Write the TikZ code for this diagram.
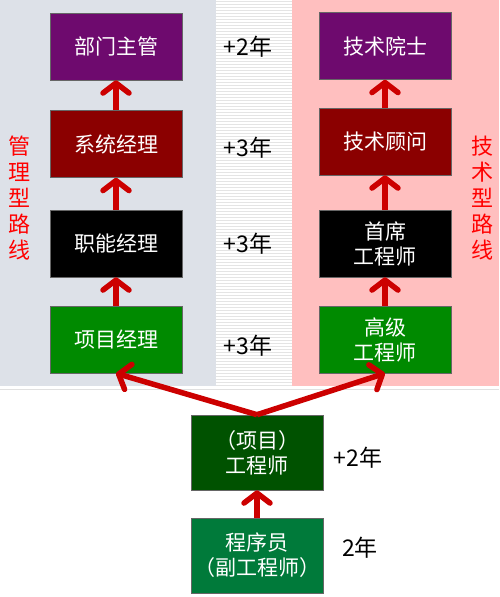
\documentclass[tikz,border=0pt]{standalone}
\usepackage{fontspec}
\setmainfont{Noto Sans CJK SC}
\usetikzlibrary{arrows.meta}
\definecolor{panelgray}{HTML}{DDE1E8}
\definecolor{panelpink}{HTML}{FFBFBF}
\definecolor{cpurple}{HTML}{6E0A6E}
\definecolor{cdarkred}{HTML}{8B0000}
\definecolor{cgreen}{HTML}{008A00}
\definecolor{cdkgreen}{HTML}{005200}
\definecolor{cmidgreen}{HTML}{007A3A}
\definecolor{arrowred}{HTML}{CC0000}
\definecolor{stripe}{HTML}{E4E4E4}
\tikzset{
  stepbox/.style={draw=black!60, line width=0.6pt, minimum width=132pt, minimum height=67pt,
    text=white, font=\fontsize{21}{25}\selectfont, align=center, inner sep=2pt},
  uparrow/.style={draw=arrowred, line width=5.5pt, -{Straight Barb[length=10pt,width=26pt,round]}},
  yearlabel/.style={font=\fontsize{23}{26}\selectfont, text=black},
  sidelabel/.style={font=\fontsize{22}{26}\selectfont, text=red, align=center}
}
\begin{document}
\begin{tikzpicture}[x=1pt,y=-1pt]
\useasboundingbox (0,0) rectangle (499,597);
\fill[white] (0,0) rectangle (499,597);
% panels
\fill[panelgray] (0,0) rectangle (216,386);
\fill[panelpink] (292,0) rectangle (499,386);
\foreach \yy in {1,4,...,385} {\draw[stripe, line width=1pt] (216,\yy) -- (292,\yy);}
\draw[black!12, line width=1pt] (0,389) -- (499,389);
% left column
\node[stepbox, fill=cpurple] (bmzg) at (116,46.5) {部门主管};
\node[stepbox, fill=cdarkred] (xtjl) at (116,144) {系统经理};
\node[stepbox, fill=black] (znjl) at (116,243.5) {职能经理};
\node[stepbox, fill=cgreen] (xmjl) at (116,339.5) {项目经理};
% right column
\node[stepbox, fill=cpurple] (jsys) at (385,46) {技术院士};
\node[stepbox, fill=cdarkred] (jsgw) at (385,141.5) {技术顾问};
\node[stepbox, fill=black] (sxgc) at (385,243.5) {首席\\工程师};
\node[stepbox, fill=cgreen] (gjgc) at (385,339.5) {高级\\工程师};
% bottom
\node[stepbox, fill=cdkgreen, minimum height=75pt] (gcs) at (257,452.5) {（项目）\\工程师};
\node[stepbox, fill=cmidgreen, minimum height=75pt] (cxy) at (257,555.5) {程序员\\（副工程师）};
% arrows
\draw[uparrow] (xtjl.north) -- (bmzg.south);
\draw[uparrow] (znjl.north) -- (xtjl.south);
\draw[uparrow] (xmjl.north) -- (znjl.south);
\draw[uparrow] (jsgw.north) -- (jsys.south);
\draw[uparrow] (sxgc.north) -- (jsgw.south);
\draw[uparrow] (gjgc.north) -- (sxgc.south);
\draw[uparrow] (cxy.north) -- (gcs.south);
\draw[uparrow] (gcs.north) -- (xmjl.south);
\draw[uparrow] (gcs.north) -- (gjgc.south);
% year labels
\node[yearlabel] (y1) at (248,47) {+2年};
\node[yearlabel] (y2) at (248,148) {+3年};
\node[yearlabel] (y3) at (248,244) {+3年};
\node[yearlabel] (y4) at (248,346) {+3年};
\node[yearlabel] (y5) at (358,458) {+2年};
\node[yearlabel] (y6) at (360,548) {2年};
% side labels
\node[sidelabel] (lside) at (20,198) {管\\理\\型\\路\\线};
\node[sidelabel] (rside) at (482,198) {技\\术\\型\\路\\线};
\end{tikzpicture}
\end{document}
